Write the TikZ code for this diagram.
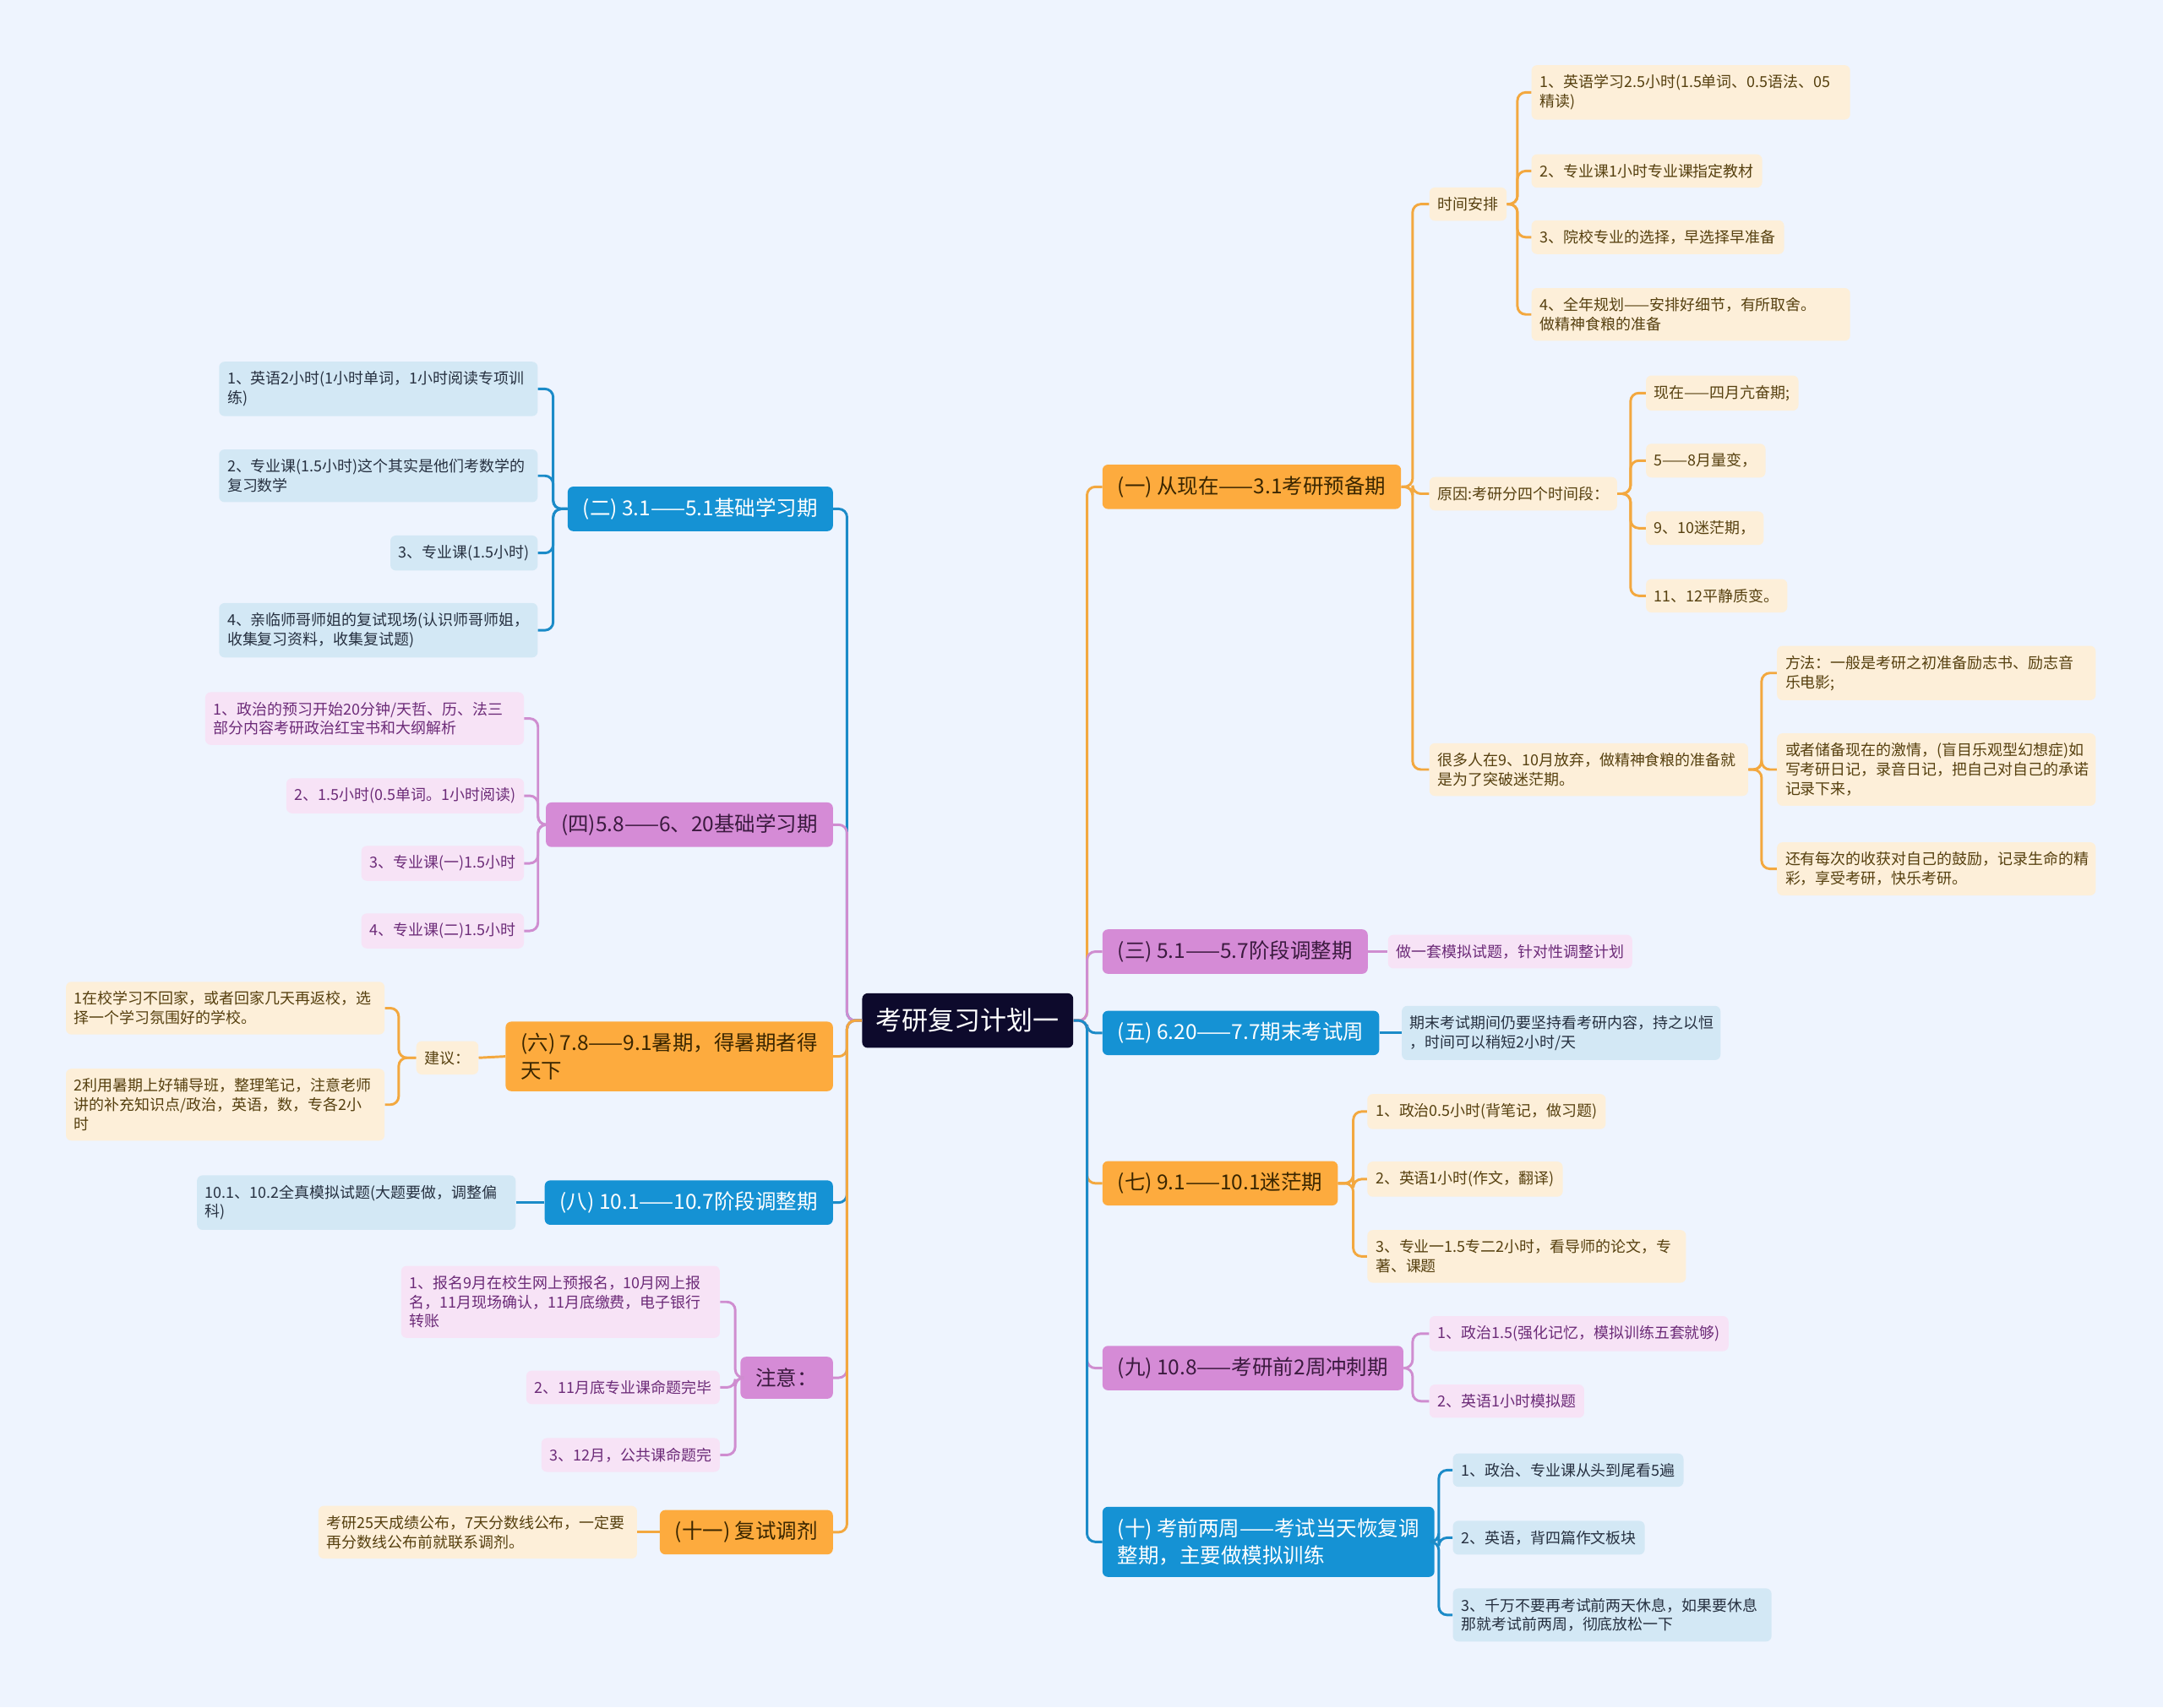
\documentclass[tikz,border=0pt]{standalone}
\usepackage{fontspec}
\setmainfont{Noto Sans CJK SC}

\definecolor{bg}{HTML}{EEF4FE}
\definecolor{rootfill}{HTML}{0D0A2C}
\definecolor{orfill}{HTML}{FDAB3E}
\definecolor{ortext}{HTML}{3A2600}
\definecolor{pufill}{HTML}{D58BD6}
\definecolor{putext}{HTML}{3B1A3F}
\definecolor{blfill}{HTML}{1592D4}
\definecolor{orlight}{HTML}{FDEFD9}
\definecolor{orleaftext}{HTML}{56400F}
\definecolor{pulight}{HTML}{F7E3F6}
\definecolor{puleaftext}{HTML}{6C2B78}
\definecolor{bllight}{HTML}{D3E8F5}
\definecolor{blleaftext}{HTML}{263040}
\definecolor{orline}{HTML}{F3A83F}
\definecolor{puline}{HTML}{CF8DD0}
\definecolor{blline}{HTML}{1B8BC8}

\tikzset{
  box/.style={rounded corners=4pt, align=left},
  root/.style={box, fill=rootfill, text=white, inner xsep=10pt, inner ysep=11pt, font=\fontsize{19}{23}\selectfont},
  branch/.style={box, inner xsep=11pt, inner ysep=8.3pt, font=\fontsize{15}{20}\selectfont},
  leaf/.style={box, inner xsep=6pt, inner ysep=7pt, font=\fontsize{11}{14}\selectfont},
  wide/.style={text width=219pt},
  orbranch/.style={branch, fill=orfill, text=ortext},
  pubranch/.style={branch, fill=pufill, text=putext},
  blbranch/.style={branch, fill=blfill, text=white},
  orleaf/.style={leaf, fill=orlight, text=orleaftext},
  puleaf/.style={leaf, fill=pulight, text=puleaftext},
  blleaf/.style={leaf, fill=bllight, text=blleaftext},
  link/.style={line width=1.8pt, rounded corners=6pt},
  orlink/.style={link, draw=orline},
  pulink/.style={link, draw=puline},
  bllink/.style={link, draw=blline},
}

\begin{document}
\begin{tikzpicture}[x=1pt, y=-1pt]

    \fill[bg] (0,0) rectangle (1568,1238);

    \node[root] (root) at (701.5,740) {考研复习计划一};

    % right side
    \node[orbranch, anchor=west] (b1) at (799,353) {(一) 从现在——3.1考研预备期};
    \node[orleaf, anchor=west] (b1a) at (1036,148) {时间安排};
    \node[orleaf, wide, anchor=west] (b1a1) at (1110,67) {1、英语学习2.5小时(1.5单词、0.5语法、05\\精读)};
    \node[orleaf, anchor=west] (b1a2) at (1110,124) {2、专业课1小时专业课指定教材};
    \node[orleaf, anchor=west] (b1a3) at (1110,172) {3、院校专业的选择，早选择早准备};
    \node[orleaf, wide, anchor=west] (b1a4) at (1110,228) {4、全年规划——安排好细节，有所取舍。\\做精神食粮的准备};
    \node[orleaf, anchor=west] (b1b) at (1036,358) {原因:考研分四个时间段：};
    \node[orleaf, anchor=west] (b1b1) at (1193,285) {现在——四月亢奋期;};
    \node[orleaf, anchor=west] (b1b2) at (1193,334) {5——8月量变，};
    \node[orleaf, anchor=west] (b1b3) at (1193,383) {9、10迷茫期，};
    \node[orleaf, anchor=west] (b1b4) at (1193,432) {11、12平静质变。};
    \node[orleaf, wide, anchor=west] (b1c) at (1036,558) {很多人在9、10月放弃，做精神食粮的准备就\\是为了突破迷茫期。};
    \node[orleaf, wide, anchor=west] (b1c1) at (1288,488) {方法：一般是考研之初准备励志书、励志音\\乐电影;};
    \node[orleaf, wide, anchor=west] (b1c2) at (1288,558) {或者储备现在的激情，(盲目乐观型幻想症)如\\写考研日记，录音日记，把自己对自己的承诺\\记录下来，};
    \node[orleaf, wide, anchor=west] (b1c3) at (1288,630) {还有每次的收获对自己的鼓励，记录生命的精\\彩，享受考研，快乐考研。};

    \node[pubranch, anchor=west] (b2) at (799,690) {(三) 5.1——5.7阶段调整期};
    \node[puleaf, anchor=west] (b2a) at (1006,690) {做一套模拟试题，针对性调整计划};

    \node[blbranch, anchor=west] (b3) at (799,749) {(五) 6.20——7.7期末考试周};
    \node[blleaf, wide, anchor=west] (b3a) at (1016,749) {期末考试期间仍要坚持看考研内容，持之以恒\\，时间可以稍短2小时/天};

    \node[orbranch, anchor=west] (b4) at (799,858) {(七) 9.1——10.1迷茫期};
    \node[orleaf, anchor=west] (b4a) at (991,806) {1、政治0.5小时(背笔记，做习题)};
    \node[orleaf, anchor=west] (b4b) at (991,855) {2、英语1小时(作文，翻译)};
    \node[orleaf, wide, anchor=west] (b4c) at (991,911) {3、专业一1.5专二2小时，看导师的论文，专\\著、课题};

    \node[pubranch, anchor=west] (b5) at (799,992) {(九) 10.8——考研前2周冲刺期};
    \node[puleaf, anchor=west] (b5a) at (1036,967) {1、政治1.5(强化记忆，模拟训练五套就够)};
    \node[puleaf, anchor=west] (b5b) at (1036,1016) {2、英语1小时模拟题};

    \node[blbranch, anchor=west] (b6) at (799,1118) {(十) 考前两周——考试当天恢复调\\整期，主要做模拟训练};
    \node[blleaf, anchor=west] (b6a) at (1053,1066) {1、政治、专业课从头到尾看5遍};
    \node[blleaf, anchor=west] (b6b) at (1053,1115) {2、英语，背四篇作文板块};
    \node[blleaf, wide, anchor=west] (b6c) at (1053,1171) {3、千万不要再考试前两天休息，如果要休息\\那就考试前两周，彻底放松一下};

    % left side
    \node[blbranch, anchor=east] (l1) at (604,369) {(二) 3.1——5.1基础学习期};
    \node[blleaf, wide, anchor=east] (l1a) at (390,282) {1、英语2小时(1小时单词，1小时阅读专项训\\练)};
    \node[blleaf, wide, anchor=east] (l1b) at (390,345) {2、专业课(1.5小时)这个其实是他们考数学的\\复习数学};
    \node[blleaf, anchor=east] (l1c) at (390,401) {3、专业课(1.5小时)};
    \node[blleaf, wide, anchor=east] (l1d) at (390,457) {4、亲临师哥师姐的复试现场(认识师哥师姐，\\收集复习资料，收集复试题)};

    \node[pubranch, anchor=east] (l2) at (604,598) {(四)5.8——6、20基础学习期};
    \node[puleaf, wide, anchor=east] (l2a) at (380,521) {1、政治的预习开始20分钟/天哲、历、法三\\部分内容考研政治红宝书和大纲解析};
    \node[puleaf, anchor=east] (l2b) at (380,577) {2、1.5小时(0.5单词。1小时阅读)};
    \node[puleaf, anchor=east] (l2c) at (380,626) {3、专业课(一)1.5小时};
    \node[puleaf, anchor=east] (l2d) at (380,675) {4、专业课(二)1.5小时};

    \node[orbranch, anchor=east] (l3) at (604,766) {(六) 7.8——9.1暑期，得暑期者得\\天下};
    \node[orleaf, anchor=east] (l3a) at (347,767) {建议：};
    \node[orleaf, wide, anchor=east] (l3a1) at (279,731) {1在校学习不回家，或者回家几天再返校，选\\择一个学习氛围好的学校。};
    \node[orleaf, wide, anchor=east] (l3a2) at (279,801) {2利用暑期上好辅导班，整理笔记，注意老师\\讲的补充知识点/政治，英语，数，专各2小\\时};

    \node[blbranch, anchor=east] (l4) at (604,872) {(八) 10.1——10.7阶段调整期};
    \node[blleaf, wide, anchor=east] (l4a) at (374,872) {10.1、10.2全真模拟试题(大题要做，调整偏\\科)};

    \node[pubranch, anchor=east] (l5) at (604,999) {注意：};
    \node[puleaf, wide, anchor=east] (l5a) at (522,944) {1、报名9月在校生网上预报名，10月网上报\\名，11月现场确认，11月底缴费，电子银行\\转账};
    \node[puleaf, anchor=east] (l5b) at (522,1006) {2、11月底专业课命题完毕};
    \node[puleaf, anchor=east] (l5c) at (522,1055) {3、12月，公共课命题完};

    \node[orbranch, anchor=east] (l6) at (604,1111) {(十一) 复试调剂};
    \node[orleaf, wide, anchor=east] (l6a) at (462,1111) {考研25天成绩公布，7天分数线公布，一定要\\再分数线公布前就联系调剂。};

    % trunk lines
    \coordinate (tR) at (788,0);
    \coordinate (tL) at (614,0);
    \coordinate (tb1) at (1024,0);
    \coordinate (tb1a) at (1100,0);
    \coordinate (tb1b) at (1182,0);
    \coordinate (tb1c) at (1277,0);
    \coordinate (tb4) at (981,0);
    \coordinate (tb5) at (1024,0);
    \coordinate (tb6) at (1043,0);
    \coordinate (tl1) at (401,0);
    \coordinate (tl2) at (390,0);
    \coordinate (tl3) at (289,0);
    \coordinate (tl5) at (533,0);

    % root to branches
    \draw[orlink] (root.east) -- (root.east -| tR) |- (b1.west);
    \draw[pulink] (root.east) -- (root.east -| tR) |- (b2.west);
    \draw[bllink] (root.east) -- (root.east -| tR) |- (b3.west);
    \draw[orlink] (root.east) -- (root.east -| tR) |- (b4.west);
    \draw[pulink] (root.east) -- (root.east -| tR) |- (b5.west);
    \draw[bllink] (root.east) -- (root.east -| tR) |- (b6.west);

    \draw[bllink] (root.west) -- (root.west -| tL) |- (l1.east);
    \draw[pulink] (root.west) -- (root.west -| tL) |- (l2.east);
    \draw[orlink] (root.west) -- (root.west -| tL) |- (l3.east);
    \draw[bllink] (root.west) -- (root.west -| tL) |- (l4.east);
    \draw[pulink] (root.west) -- (root.west -| tL) |- (l5.east);
    \draw[orlink] (root.west) -- (root.west -| tL) |- (l6.east);

    % branches to leaves
    \foreach \c in {b1a,b1b,b1c}
        \draw[orlink] (b1.east) -- (b1.east -| tb1) |- (\c.west);
    \foreach \c in {b1a1,b1a2,b1a3,b1a4}
        \draw[orlink] (b1a.east) -- (b1a.east -| tb1a) |- (\c.west);
    \foreach \c in {b1b1,b1b2,b1b3,b1b4}
        \draw[orlink] (b1b.east) -- (b1b.east -| tb1b) |- (\c.west);
    \foreach \c in {b1c1,b1c2,b1c3}
        \draw[orlink] (b1c.east) -- (b1c.east -| tb1c) |- (\c.west);
    \draw[pulink] (b2.east) -- (b2a.west);
    \draw[bllink] (b3.east) -- (b3a.west);
    \foreach \c in {b4a,b4b,b4c}
        \draw[orlink] (b4.east) -- (b4.east -| tb4) |- (\c.west);
    \foreach \c in {b5a,b5b}
        \draw[pulink] (b5.east) -- (b5.east -| tb5) |- (\c.west);
    \foreach \c in {b6a,b6b,b6c}
        \draw[bllink] (b6.east) -- (b6.east -| tb6) |- (\c.west);

    \foreach \c in {l1a,l1b,l1c,l1d}
        \draw[bllink] (l1.west) -- (l1.west -| tl1) |- (\c.east);
    \foreach \c in {l2a,l2b,l2c,l2d}
        \draw[pulink] (l2.west) -- (l2.west -| tl2) |- (\c.east);
    \draw[orlink] (l3.west) -- (l3a.east);
    \foreach \c in {l3a1,l3a2}
        \draw[orlink] (l3a.west) -- (l3a.west -| tl3) |- (\c.east);
    \draw[bllink] (l4.west) -- (l4a.east);
    \foreach \c in {l5a,l5b,l5c}
        \draw[pulink] (l5.west) -- (l5.west -| tl5) |- (\c.east);
    \draw[orlink] (l6.west) -- (l6a.east);

\end{tikzpicture}
\end{document}
